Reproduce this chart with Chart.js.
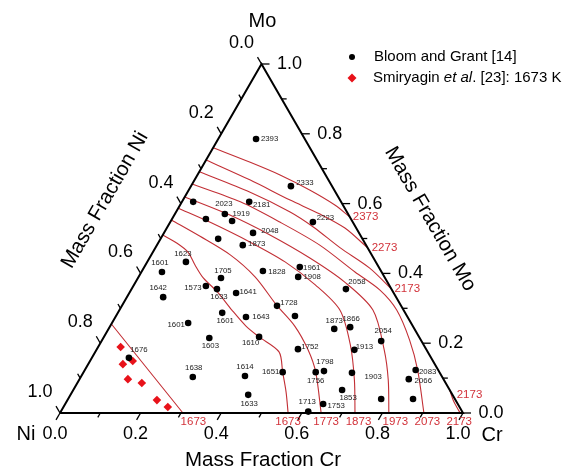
<!DOCTYPE html>
<html>
<head>
<meta charset="utf-8">
<script src="https://cdn.jsdelivr.net/npm/chart.js@4.4.0/dist/chart.umd.min.js"></script>
<style>
  html, body { margin: 0; padding: 0; background: #fff; }
  canvas { display: block; }
</style>
</head>
<body>
<canvas id="chart" width="570" height="473"></canvas>
<script>
// Ni-Cr-Mo ternary liquidus plot. Compositions are mass fractions (Cr, Mo); Ni = 1 - Cr - Mo.
const SQ = Math.sqrt(3) / 2;
const FONT = '"Liberation Sans", Arial, sans-serif';

// Bloom and Grant [14]: measured points and their temperatures (K), '' = no label
const bgCr = [0.094, 0.248, 0.354, 0.167, 0.028, 0.084, 0.124, 0.152, 0.221, 0.143,
  0.213, 0.300, 0.386, 0.396, 0.532, 0.096, 0.051, 0.206, 0.180, 0.212,
  0.265, 0.090, 0.385, 0.259, 0.324, 0.444, 0.189, 0.560, 0.597, 0.694,
  0.263, 0.385, 0.499, 0.640, 0.092, 0.821, 0.595, 0.576, 0.494, 0.667,
  0.406, 0.278, 0.817, 0.667, 0.441, 0.777, 0.856, 0.640, 0.614];
const bgMo = [0.785, 0.650, 0.547, 0.605, 0.605, 0.556, 0.570, 0.550, 0.516, 0.499,
  0.481, 0.407, 0.418, 0.390, 0.355, 0.433, 0.404, 0.387, 0.364, 0.355,
  0.344, 0.332, 0.307, 0.287, 0.275, 0.278, 0.258, 0.241, 0.246, 0.206,
  0.215, 0.218, 0.183, 0.181, 0.158, 0.123, 0.120, 0.117, 0.117, 0.115,
  0.106, 0.103, 0.097, 0.066, 0.052, 0.040, 0.040, 0.026, 0.004];
const bgTemp = ['2393', '2333', '2223', '2181', '', '', '2023', '1919', '2048', '',
  '1873', '1828', '1961', '1908', '2058', '1623', '1601', '1705', '1573', '1633',
  '1641', '1642', '1728', '1601', '1643', '', '1601', '1873', '1866', '2054',
  '1603', '1610', '1752', '1913', '1676', '2083', '1798', '1756', '1651', '',
  '1614', '1638', '2066', '1853', '1633', '1903', '', '1753', '1713'];

// Smiryagin et al. [23]: 1673 K
const smCr = [0.056, 0.086, 0.106, 0.120, 0.160, 0.222, 0.259];
const smMo = [0.189, 0.140, 0.149, 0.097, 0.086, 0.037, 0.017];

// calculated isotherms (K), each a list of (Cr, Mo) along the curve
const isoNames = ['2373', '2273', '2173', '2073', '1973', '1873', '1773', '1673', '1673', '2173'];
const isoCr = [
  [0, 0.111, 0.205, 0.300, 0.384, 0.438],
  [0, 0.137, 0.266, 0.360, 0.442, 0.527],
  [0, 0.154, 0.283, 0.362, 0.459, 0.561, 0.645],
  [0, 0.145, 0.272, 0.404, 0.530, 0.618, 0.688, 0.763, 0.826, 0.903],
  [0, 0.138, 0.266, 0.398, 0.519, 0.629, 0.714, 0.767, 0.816],
  [0, 0.098, 0.226, 0.342, 0.450, 0.547, 0.623, 0.683, 0.732],
  [0, 0.093, 0.196, 0.289, 0.383, 0.458, 0.525, 0.576, 0.648],
  [0, 0.046, 0.087, 0.123, 0.162, 0.217, 0.279, 0.337, 0.385, 0.456, 0.494, 0.531, 0.566],
  [0, 0.305],
  [0.934, 0.958, 0.978, 0.993],
];
const isoMo = [
  [0.760, 0.719, 0.682, 0.639, 0.596, 0.562],
  [0.725, 0.668, 0.610, 0.570, 0.530, 0.473],
  [0.691, 0.633, 0.576, 0.533, 0.473, 0.415, 0.355],
  [0.656, 0.605, 0.547, 0.481, 0.404, 0.352, 0.295, 0.209, 0.123, 0],
  [0.619, 0.567, 0.510, 0.444, 0.375, 0.295, 0.181, 0.095, 0],
  [0.587, 0.547, 0.490, 0.433, 0.367, 0.295, 0.195, 0.095, 0],
  [0.553, 0.507, 0.453, 0.390, 0.309, 0.249, 0.181, 0.117, 0],
  [0.510, 0.487, 0.461, 0.424, 0.387, 0.347, 0.295, 0.249, 0.218, 0.175, 0.117, 0.060, 0],
  [0.255, 0],
  [0.066, 0.036, 0.015, 0],
];

const axisTicks = [0, 0.1, 0.2, 0.3, 0.4, 0.5, 0.6, 0.7, 0.8, 0.9, 1.0];
const tickLabels = ['0.0', '', '0.2', '', '0.4', '', '0.6', '', '0.8', '', '1.0'];

// ---- layout only (pixel nudges for text) ----
const bgLabelOffset = [[13.5, 0], [14, -3], [12.5, -4], [12.5, 3], null, null, [-1, -10], [9, -7], [17, -2], null,
  [14, -1], [14, 1], [12, 1], [14, 0], [11, -7], [-3, -8], [-2, -9], [2, -7], [-13, 2], [2, 8],
  [12, -1], [-5, -9], [12, -3], [3, 8], [15, 0], null, [-12, 2], [0, -8], [1, -8.5], [2, -10],
  [1, 8], [-8.5, 6], [12, -2.5], [10, -3], [10, -8], [12, 2], [1, -9], [0, 8.5], [-12, 0], null,
  [0, -9], [1, -9.5], [14.5, 2], [6, 7.5], [1, 9], [-8, -22], null, [13, 2], [-1, -10]];
// [curve, point index (-1 = last), dx, dy, align]
const isoLabelSpots = [
  [0, -1, 3, 0, 'left'], [1, -1, 4, 0, 'left'], [2, -1, 3, 0, 'left'],
  [3, -1, 3.5, 8.5, 'center'], [4, -1, 6.5, 8.5, 'center'], [5, -1, 3.5, 8.5, 'center'],
  [6, -1, 5, 8.5, 'center'], [7, -1, 0, 8.5, 'center'], [8, -1, 10.5, 8.5, 'center'],
  [9, 0, 7, 4.5, 'left'], [9, -1, -1, 8.5, 'center'],
];

const toXY = (cr, mo) => ({ x: cr + mo / 2, y: mo * SQ });

const datasets = [
  {
    data: bgCr.map((c, i) => toXY(c, bgMo[i])),
    pointRadius: 3.3, pointStyle: 'circle', backgroundColor: '#000', borderWidth: 0,
    order: 0, clip: false,
  },
  {
    data: smCr.map((c, i) => toXY(c, smMo[i])),
    pointRadius: 4.3, pointStyle: 'rectRot', backgroundColor: '#e8121a', borderWidth: 0,
    order: 0, clip: false,
  },
  {
    data: [toXY(0, 0), toXY(1, 0), toXY(0, 1), toXY(0, 0)],
    showLine: true, borderColor: '#000', borderWidth: 2, pointRadius: 0, tension: 0,
    order: 1, clip: false,
  },
];
isoCr.forEach((crs, k) => {
  datasets.push({
    data: crs.map((c, i) => toXY(c, isoMo[k][i])),
    showLine: true, borderColor: '#c22f35', borderWidth: 1.1, pointRadius: 0,
    tension: 0.3, order: 2, clip: false,
  });
});

const ternaryPlugin = {
  id: 'ternary',
  afterDraw(chart) {
    const { ctx, scales: { x, y } } = chart;
    const P = (cr, mo) => [x.getPixelForValue(cr + mo / 2), y.getPixelForValue(mo * SQ)];
    ctx.save();

    // axis ticks: bottom (Cr) point down-left, left (Ni) up-left, right (Mo) to the right
    ctx.strokeStyle = '#000';
    ctx.lineWidth = 1.3;
    ctx.fillStyle = '#000';
    ctx.font = '18px ' + FONT;
    ctx.textAlign = 'center';
    ctx.textBaseline = 'middle';
    axisTicks.forEach((f, i) => {
      const len = tickLabels[i] ? 8 : 5;
      const axes = [
        { p: P(f, 0), d: [-0.5, SQ], off: [-5, 21] },
        { p: P(0, 1 - f), d: [-0.5, -SQ], off: [-20, -21] },
        { p: P(1 - f, f), d: [1, 0], off: [28, 0] },
      ];
      axes.forEach(({ p, d, off }) => {
        ctx.beginPath();
        ctx.moveTo(p[0], p[1]);
        ctx.lineTo(p[0] + d[0] * len, p[1] + d[1] * len);
        ctx.stroke();
        if (tickLabels[i]) ctx.fillText(tickLabels[i], p[0] + off[0], p[1] + off[1]);
      });
    });

    // corner names and axis titles
    ctx.font = '20px ' + FONT;
    const ni = P(0, 0), cr = P(1, 0), mo = P(0, 1);
    ctx.fillText('Ni', ni[0] - 34, ni[1] + 21);
    ctx.fillText('Cr', cr[0] + 29, cr[1] + 22);
    ctx.fillText('Mo', mo[0] + 1, mo[1] - 43);
    ctx.font = '20.5px ' + FONT;
    ctx.fillText('Mass Fraction Cr', (ni[0] + cr[0]) / 2 + 1.5, ni[1] + 47);
    ctx.save();
    ctx.translate(105, 200);
    ctx.rotate(-Math.PI / 3);
    ctx.fillText('Mass Fraction Ni', 0, 0);
    ctx.restore();
    ctx.save();
    ctx.translate(430, 219);
    ctx.rotate(Math.PI / 3);
    ctx.fillText('Mass Fraction Mo', 0, 0);
    ctx.restore();

    // temperature labels of the measured points
    ctx.font = '7.8px ' + FONT;
    ctx.fillStyle = '#222';
    bgTemp.forEach((t, i) => {
      if (!t) return;
      const p = P(bgCr[i], bgMo[i]);
      const o = bgLabelOffset[i];
      ctx.fillText(t, p[0] + o[0], p[1] + o[1]);
    });

    // isotherm labels
    ctx.font = '11.5px ' + FONT;
    ctx.fillStyle = '#d2323a';
    isoLabelSpots.forEach(([k, j, dx, dy, align]) => {
      const n = isoCr[k].length;
      const idx = j < 0 ? n + j : j;
      const p = P(isoCr[k][idx], isoMo[k][idx]);
      ctx.textAlign = align;
      ctx.fillText(isoNames[k], p[0] + dx, p[1] + dy);
    });

    // legend
    ctx.textAlign = 'left';
    ctx.fillStyle = '#000';
    ctx.beginPath();
    ctx.arc(352, 57, 3, 0, Math.PI * 2);
    ctx.fill();
    ctx.fillStyle = '#e8121a';
    ctx.beginPath();
    ctx.moveTo(352, 73.5); ctx.lineTo(356.5, 78); ctx.lineTo(352, 82.5); ctx.lineTo(347.5, 78);
    ctx.closePath();
    ctx.fill();
    ctx.fillStyle = '#000';
    ctx.font = '15px ' + FONT;
    ctx.fillText('Bloom and Grant [14]', 374, 57);
    let tx = 373;
    ctx.fillText('Smiryagin ', tx, 78);
    tx += ctx.measureText('Smiryagin ').width;
    ctx.font = 'italic 15px ' + FONT;
    ctx.fillText('et al', tx, 78);
    tx += ctx.measureText('et al').width;
    ctx.font = '15px ' + FONT;
    ctx.fillText('. [23]: 1673 K', tx, 78);
    ctx.restore();
  },
};

new Chart(document.getElementById('chart'), {
  type: 'scatter',
  data: { datasets },
  options: {
    responsive: false,
    animation: false,
    devicePixelRatio: 1,
    layout: { padding: { left: 60, right: 107, top: 64, bottom: 60 } },
    scales: {
      x: { type: 'linear', min: 0, max: 1, display: false },
      y: { type: 'linear', min: 0, max: SQ, display: false },
    },
    plugins: { legend: { display: false }, tooltip: { enabled: false } },
  },
  plugins: [ternaryPlugin],
});
</script>
</body>
</html>
